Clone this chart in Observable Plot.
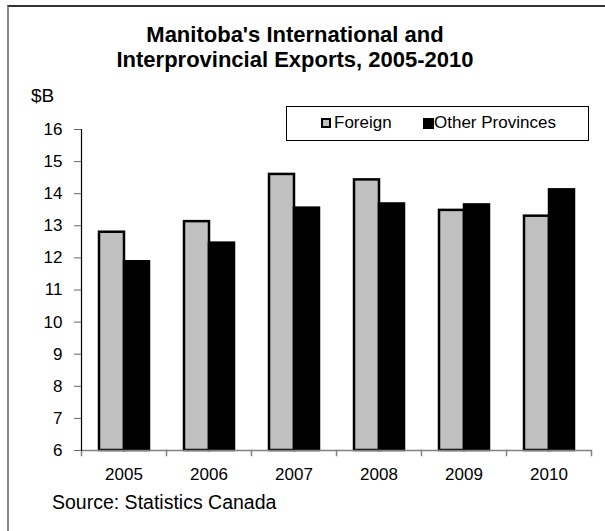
<!DOCTYPE html>
<html><head><meta charset="utf-8">
<script src="https://cdn.jsdelivr.net/npm/d3@7"></script>
<script src="https://cdn.jsdelivr.net/npm/@observablehq/plot@0.6"></script>
<style>
body{margin:0;background:#fff;font-family:"Liberation Sans",Arial,sans-serif;color:#000;}
#wrap{position:relative;width:605px;height:531px;overflow:hidden;background:#fff;}
#chart{position:absolute;left:0;top:0;}
#frame{position:absolute;left:7px;top:5px;width:700px;height:600px;border-left:2px solid #888;border-top:2px solid #333;pointer-events:none;}
.title{position:absolute;left:0;width:590px;text-align:center;font-weight:bold;font-size:22px;line-height:24px;white-space:nowrap;}
.unit{position:absolute;left:31px;top:85px;font-size:19px;line-height:22px;}
.source{position:absolute;left:52px;top:491px;font-size:19.5px;line-height:22px;white-space:nowrap;}
#legend{position:absolute;left:286px;top:106px;width:301px;height:33px;border:1px solid #000;background:#fff;font-size:17px;}
#legend .sw{position:absolute;box-sizing:border-box;}
#legend .lab{position:absolute;top:6px;line-height:20px;white-space:nowrap;}
</style>
</head><body>
<div id="wrap">
  <div id="chart"></div>
  <div class="title" style="top:23px">Manitoba's International and</div>
  <div class="title" style="top:48px">Interprovincial Exports, 2005-2010</div>
  <div class="unit">$B</div>
  <div id="legend"></div>
  <div class="source">Source: Statistics Canada</div>
  <div id="frame"></div>
</div>
<script>
const years = ["2005", "2006", "2007", "2008", "2009", "2010"];
const series = ["Foreign", "Other Provinces"];
const foreign = [12.8, 13.13, 14.6, 14.43, 13.48, 13.3];
const otherProvinces = [11.88, 12.46, 13.55, 13.68, 13.65, 14.12];
const yTicks = [6, 7, 8, 9, 10, 11, 12, 13, 14, 15, 16];
const colors = ["#c0c0c0", "#000000"];

const yMin = yTicks[0], yMax = yTicks[yTicks.length - 1];
const rows = years.flatMap((y, i) => [
  {year: y, series: series[0], value: foreign[i]},
  {year: y, series: series[1], value: otherProvinces[i]}
]);

const W = 605, H = 531, mT = 129, mB = 81, mL = 79, mR = 12;
const plotH = H - mT - mB;

const chart = Plot.plot({
  width: W, height: H,
  marginTop: mT, marginBottom: mB, marginLeft: mL, marginRight: mR,
  style: {fontFamily: "'Liberation Sans', Arial, sans-serif", fontSize: "17px", color: "#000", background: "transparent"},
  fx: {domain: years, padding: 0, label: null, axis: null},
  x: {domain: series, paddingInner: 0, paddingOuter: 0.7, axis: null},
  y: {domain: [yMin, yMax], label: null},
  color: {domain: series, range: colors},
  marks: [
    Plot.barY(rows, {fx: "year", x: "series", y1: yMin, y2: "value", fill: "series", stroke: "#000", strokeWidth: 2.5}),
    Plot.ruleY([yMin], {stroke: "#808080", strokeWidth: 1.5}),
    Plot.frame({anchor: "left", insetTop: plotH, insetBottom: -5, stroke: "#808080", strokeWidth: 1.5}),
    Plot.frame({anchor: "right", facetAnchor: "right", insetTop: plotH, insetBottom: -5, stroke: "#808080", strokeWidth: 1.5}),
    Plot.frame({anchor: "left", facetAnchor: "left", stroke: "#000", strokeWidth: 1.2}),
    Plot.axisY({ticks: yTicks, tickSize: 7, tickPadding: 12, stroke: "#666", label: null, tickFormat: d => String(d)}),
    Plot.axisFx({anchor: "bottom", tickSize: 0, tickPadding: 17, label: null})
  ]
});
document.getElementById("chart").appendChild(chart);

// legend
const legend = document.getElementById("legend");
const items = [
  {x: 34, w: 10, h: 10, border: "2px solid #000", text: series[0], tx: 47},
  {x: 136, w: 11, h: 11, border: "none", text: series[1], tx: 147}
];
items.forEach((it, i) => {
  const sw = document.createElement("div");
  sw.className = "sw";
  sw.style.left = it.x + "px";
  sw.style.top = (16 - it.h / 2) + "px";
  sw.style.width = it.w + "px";
  sw.style.height = it.h + "px";
  sw.style.background = colors[i];
  sw.style.border = it.border;
  legend.appendChild(sw);
  const lab = document.createElement("span");
  lab.className = "lab";
  lab.style.left = it.tx + "px";
  lab.textContent = it.text;
  legend.appendChild(lab);
});
</script>
</body></html>
